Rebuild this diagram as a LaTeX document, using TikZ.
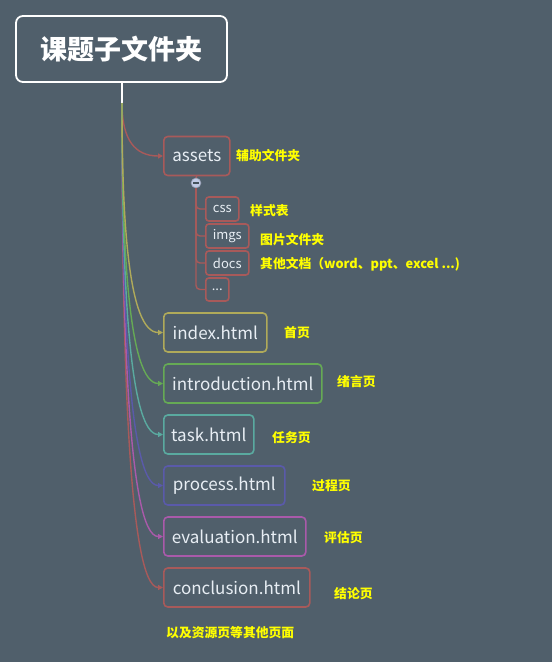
\documentclass[tikz,border=0pt]{standalone}
\usepackage{fontspec}
\setmainfont{Noto Sans CJK SC}
\usetikzlibrary{arrows.meta}
\definecolor{bg}{HTML}{505F6B}
\definecolor{cred}{HTML}{A85A5A}
\definecolor{cyel}{HTML}{B0AA5A}
\definecolor{cgreen}{HTML}{66AA55}
\definecolor{cteal}{HTML}{5AAAA0}
\definecolor{cblue}{HTML}{5A5AAA}
\definecolor{cmag}{HTML}{AA5AAA}
\definecolor{lbl}{HTML}{FFFF00}
\definecolor{txt}{HTML}{E8EEF4}
\definecolor{minusfill}{HTML}{C0CAE4}
\begin{document}
\begin{tikzpicture}[x=1pt,y=-1pt,
  filebox/.style={draw=#1,line width=1.6pt,rounded corners=4pt,anchor=west,inner sep=0pt,
    minimum height=39pt,text=txt,font=\fontsize{17}{19}\selectfont},
  subbox/.style={draw=cred,line width=1.6pt,rounded corners=3pt,anchor=west,inner sep=0pt,
    minimum height=24pt,text=txt,font=\fontsize{13}{15}\selectfont},
  lab/.style={anchor=west,text=lbl,font=\bfseries\fontsize{12.8}{14}\selectfont,inner sep=0pt},
  conn/.style={draw=#1,line width=1.4pt,-{Triangle[length=5pt,width=5pt]}},
  subline/.style={draw=cred,line width=1.4pt,rounded corners=4pt}]
\fill[bg] (0,0) rectangle (552,662);
\useasboundingbox (0,0) rectangle (552,662);
% root
\node[draw=white,line width=1.8pt,rounded corners=7pt,minimum width=211pt,minimum height=66pt,
  inner sep=0pt,text=white,font=\bfseries\fontsize{27}{30}\selectfont] (root) at (121.5,49) {课题子文件夹};
\coordinate (trunk) at (122,103);
\draw[white,line width=1.8pt] (122,82) -- (trunk);
% main nodes
\node[filebox=cred,minimum width=66pt] (assets) at (163,156) {assets};
\node[filebox=cyel,minimum width=103pt] (index) at (163,332.5) {index.html};
\node[filebox=cgreen,minimum width=158pt] (intro) at (163,383.5) {introduction.html};
\node[filebox=cteal,minimum width=90pt] (task) at (163,434.5) {task.html};
\node[filebox=cblue,minimum width=121pt] (process) at (163,485.5) {process.html};
\node[filebox=cmag,minimum width=142pt] (eval) at (163,536.5) {evaluation.html};
\node[filebox=cred,minimum width=146pt] (concl) at (163,587.5) {conclusion.html};
% sub nodes
\node[subbox,minimum width=33pt] (css) at (205,209) {css};
\node[subbox,minimum width=43pt] (imgs) at (205,236) {imgs};
\node[subbox,minimum width=43pt] (docs) at (205,263) {docs};
\node[subbox,minimum width=23pt,minimum height=23pt] (dots) at (205,289.5) {...};
% connectors
\draw[conn=cred] (trunk) .. controls (122,140) and (135,156) .. (assets.west);
\draw[conn=cred] (trunk) .. controls (122,345) and (128,587.5) .. (concl.west);
\draw[conn=cmag] (trunk) .. controls (122,320) and (128,536.5) .. (eval.west);
\draw[conn=cblue] (trunk) .. controls (122,294) and (128,485.5) .. (process.west);
\draw[conn=cteal] (trunk) .. controls (122,269) and (128,434.5) .. (task.west);
\draw[conn=cgreen] (trunk) .. controls (122,243) and (128,383.5) .. (intro.west);
\draw[conn=cyel] (trunk) .. controls (122,218) and (128,332.5) .. (index.west);
% subtree
\draw[subline] (assets.south) -- (196,178);
\node[circle,draw=minusfill!75!black,fill=minusfill,line width=0.6pt,minimum size=10pt,inner sep=0pt] (minus) at (196,183) {};
\draw[line width=1.2pt,color=bg!85!black] (193,183) -- (199,183);
\draw[subline] (minus.south) |- (css.west);
\draw[subline] (minus.south) |- (imgs.west);
\draw[subline] (minus.south) |- (docs.west);
\draw[subline] (minus.south) |- (dots.west);
% labels
\node[lab] (l1) at (236,156) {辅助文件夹};
\node[lab] (l2) at (250,211) {样式表};
\node[lab] (l3) at (260,240) {图片文件夹};
\node[lab] (l4) at (260,264) {其他文档（word、ppt、excel ...)};
\node[lab] (l5) at (284,333) {首页};
\node[lab] (l6) at (337,382) {绪言页};
\node[lab] (l7) at (272,438) {任务页};
\node[lab] (l8) at (312,486) {过程页};
\node[lab] (l9) at (324,538) {评估页};
\node[lab] (l10) at (334,594) {结论页};
\node[lab] (l11) at (166,633) {以及资源页等其他页面};
\end{tikzpicture}
\end{document}
